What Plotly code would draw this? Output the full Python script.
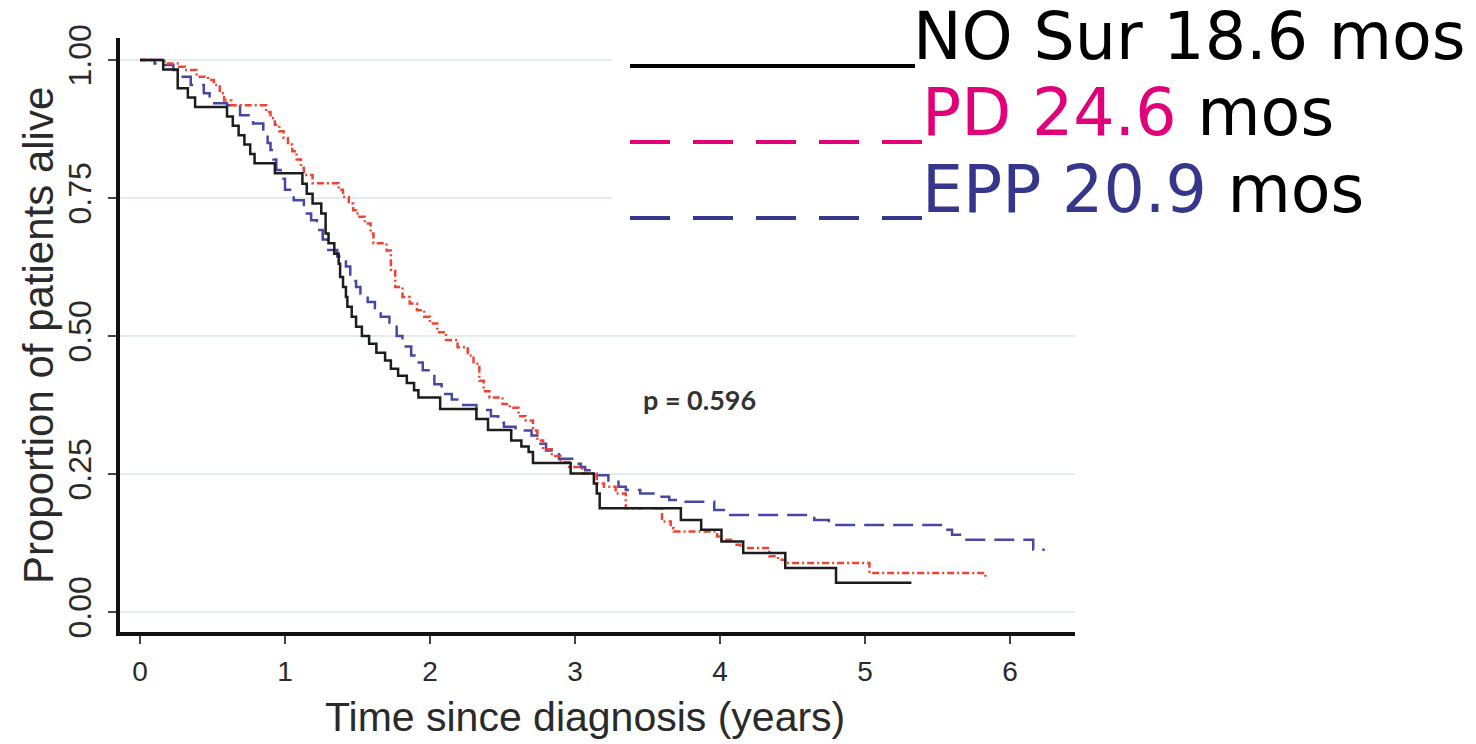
import plotly.graph_objects as go

# Kaplan-Meier survival estimates (time in years, proportion alive after each step)
no_sur_t = [0, 0.16, 0.26, 0.33, 0.38, 0.60, 0.64, 0.68, 0.72, 0.76, 0.79, 0.93, 1.12, 1.15, 1.19,
            1.25, 1.28, 1.30, 1.34, 1.37, 1.38, 1.40, 1.42, 1.43, 1.46, 1.49, 1.53, 1.58, 1.63, 1.69,
            1.73, 1.78, 1.84, 1.89, 1.92, 2.07, 2.32, 2.40, 2.56, 2.63, 2.68, 2.71, 2.97, 3.13, 3.15,
            3.17, 3.73, 3.87, 4.01, 4.16, 4.45, 4.80, 5.32]
no_sur_s = [1.0, 0.983, 0.949, 0.932, 0.915, 0.898, 0.881, 0.864, 0.847, 0.830, 0.813, 0.795, 0.776,
            0.758, 0.740, 0.722, 0.686, 0.668, 0.649, 0.631, 0.607, 0.589, 0.571, 0.553, 0.535, 0.517,
            0.500, 0.486, 0.470, 0.456, 0.441, 0.428, 0.415, 0.402, 0.389, 0.368, 0.350, 0.330, 0.311,
            0.300, 0.290, 0.270, 0.251, 0.233, 0.215, 0.188, 0.167, 0.149, 0.128, 0.107, 0.080, 0.053,
            0.053]

pd_t = [0, 0.17, 0.27, 0.31, 0.39, 0.47, 0.51, 0.55, 0.58, 0.63, 0.87, 0.90, 0.93, 0.96, 0.99, 1.02,
        1.05, 1.08, 1.11, 1.13, 1.19, 1.37, 1.40, 1.44, 1.47, 1.50, 1.55, 1.59, 1.61, 1.70, 1.73, 1.76,
        1.81, 1.86, 1.91, 1.96, 2.00, 2.05, 2.11, 2.19, 2.26, 2.30, 2.34, 2.37, 2.41, 2.50, 2.55, 2.61,
        2.66, 2.71, 2.74, 2.78, 2.84, 2.90, 2.96, 3.05, 3.15, 3.20, 3.28, 3.35, 3.60, 3.66, 3.68, 3.98,
        4.01, 4.10, 4.14, 4.34, 4.40, 4.45, 5.03, 5.83]
pd_s = [1.0, 0.994, 0.988, 0.982, 0.970, 0.964, 0.955, 0.940, 0.927, 0.918, 0.906, 0.895, 0.883,
        0.871, 0.859, 0.847, 0.835, 0.820, 0.805, 0.792, 0.777, 0.765, 0.752, 0.740, 0.728, 0.716,
        0.704, 0.686, 0.668, 0.655, 0.620, 0.589, 0.571, 0.559, 0.547, 0.535, 0.523, 0.507, 0.493,
        0.480, 0.465, 0.450, 0.419, 0.400, 0.389, 0.377, 0.370, 0.355, 0.347, 0.329, 0.311, 0.295,
        0.283, 0.272, 0.263, 0.251, 0.233, 0.227, 0.215, 0.188, 0.164, 0.152, 0.146, 0.137, 0.131,
        0.122, 0.116, 0.101, 0.095, 0.089, 0.071, 0.063]

epp_t = [0, 0.10, 0.16, 0.23, 0.28, 0.35, 0.44, 0.48, 0.60, 0.69, 0.78, 0.85, 0.88, 0.90, 0.92, 0.94,
         0.97, 1.00, 1.06, 1.13, 1.18, 1.22, 1.26, 1.29, 1.36, 1.42, 1.45, 1.49, 1.52, 1.57, 1.62,
         1.66, 1.72, 1.77, 1.81, 1.87, 1.91, 1.95, 2.03, 2.08, 2.15, 2.20, 2.32, 2.42, 2.47, 2.51,
         2.59, 2.70, 2.74, 2.80, 2.89, 2.99, 3.04, 3.07, 3.15, 3.23, 3.30, 3.35, 3.45, 3.55, 3.65,
         3.71, 3.96, 4.07, 4.65, 4.75, 5.55, 5.60, 5.67, 6.16, 6.24]
epp_s = [1.0, 0.994, 0.991, 0.982, 0.970, 0.955, 0.940, 0.922, 0.918, 0.900, 0.885, 0.867, 0.850,
         0.837, 0.820, 0.801, 0.785, 0.765, 0.746, 0.722, 0.710, 0.692, 0.675, 0.656, 0.644, 0.626,
         0.600, 0.589, 0.577, 0.562, 0.547, 0.535, 0.517, 0.500, 0.481, 0.465, 0.452, 0.438, 0.413,
         0.395, 0.385, 0.375, 0.366, 0.355, 0.343, 0.336, 0.329, 0.320, 0.305, 0.293, 0.278, 0.269,
         0.263, 0.257, 0.248, 0.236, 0.227, 0.221, 0.215, 0.209, 0.203, 0.200, 0.185, 0.176, 0.167,
         0.158, 0.149, 0.140, 0.131, 0.113, 0.113]

y_ticks = [0, 0.25, 0.5, 0.75, 1.0]
y_tick_text = ["0.00", "0.25", "0.50", "0.75", "1.00"]
x_ticks = [0, 1, 2, 3, 4, 5, 6]

legend_rows = [
    ("NO Sur 18.6", "#000000"),
    ("PD 24.6", "#e2007a"),
    ("EPP 20.9", "#36368c"),
]

W, H = 1476, 744
L, R, T, B = 120, 1075, 38, 632   # plot area in pixels


def px(x):
    return (x - L) / (R - L)


def py(y):
    return (B - y) / (B - T)


AX_FONT = "Liberation Sans, Arial, Helvetica, sans-serif"
TXT = "#2a2a2a"

fig = go.Figure()

fig.add_trace(go.Scatter(x=epp_t, y=epp_s, mode="lines", line_shape="hv",
                         line=dict(color="#4848a4", width=2.5, dash="20px,9px"),
                         name="EPP", showlegend=False))
fig.add_trace(go.Scatter(x=pd_t, y=pd_s, mode="lines", line_shape="hv",
                         line=dict(color="#ee4434", width=2.5, dash="7px,3px,2px,3px"),
                         name="PD", showlegend=False))
fig.add_trace(go.Scatter(x=no_sur_t, y=no_sur_s, mode="lines", line_shape="hv",
                         line=dict(color="#1c1c1c", width=2.5),
                         name="NO Sur", showlegend=False))

shapes = [
    # blank panel behind the legend block
    dict(type="rect", xref="paper", yref="paper", x0=px(612), x1=px(W + 5), y0=py(236), y1=py(-5),
         line=dict(width=0), fillcolor="white", layer="above"),
    # legend keys
    dict(type="line", xref="paper", yref="paper", x0=px(630), x1=px(915), y0=py(66), y1=py(66),
         line=dict(color="#000000", width=4), layer="above"),
    dict(type="line", xref="paper", yref="paper", x0=px(630), x1=px(922), y0=py(142), y1=py(142),
         line=dict(color="#e2007a", width=4, dash="40px,23px"), layer="above"),
    dict(type="line", xref="paper", yref="paper", x0=px(630), x1=px(922), y0=py(218), y1=py(218),
         line=dict(color="#36368c", width=4, dash="40px,23px"), layer="above"),
]

annotations = []
label_x = [911, 920, 920]
label_y = [37, 112, 189]
for (lbl, col), lx, ly in zip(legend_rows, label_x, label_y):
    annotations.append(dict(
        xref="paper", yref="paper", x=px(lx), y=py(ly), xanchor="left", yanchor="middle",
        text=f"<span style='color:{col}'>{lbl}</span> mos", showarrow=False,
        font=dict(family="DejaVu Sans, Verdana, sans-serif", size=65, color="#000000")))

annotations.append(dict(
    xref="paper", yref="paper", x=px(699), y=py(399), xanchor="center", yanchor="middle",
    text="<b>p = 0.596</b>", showarrow=False,
    font=dict(family="Lato, Open Sans, sans-serif", size=27, color="#333333")))

annotations.append(dict(
    xref="paper", yref="paper", x=px(585), y=py(717), xanchor="center", yanchor="middle",
    text="Time since diagnosis (years)", showarrow=False,
    font=dict(family=AX_FONT, size=41, color=TXT)))

annotations.append(dict(
    xref="paper", yref="paper", x=px(38), y=py(336), xanchor="center", yanchor="middle",
    text="Proportion of patients alive", showarrow=False, textangle=-90,
    font=dict(family=AX_FONT, size=42, color=TXT)))

fig.update_layout(
    width=W, height=H,
    margin=dict(l=L, r=W - R, t=T, b=H - B, pad=0),
    paper_bgcolor="white", plot_bgcolor="white",
    showlegend=False,
    shapes=shapes,
    annotations=annotations,
)

fig.update_xaxes(
    range=[-0.138, 6.448], tickvals=x_ticks, showgrid=False, zeroline=False,
    showline=True, linecolor="#111111", linewidth=4,
    ticks="outside", ticklen=8, tickwidth=2, tickcolor="#444444",
    tickfont=dict(family=AX_FONT, size=28, color=TXT), ticklabelstandoff=3,
)
fig.update_yaxes(
    range=[-0.036, 1.04], tickvals=y_ticks, ticktext=y_tick_text, tickangle=-90,
    showgrid=True, gridcolor="#e4eeed", gridwidth=2, zeroline=False,
    showline=True, linecolor="#111111", linewidth=4,
    ticks="outside", ticklen=8, tickwidth=2, tickcolor="#444444",
    tickfont=dict(family=AX_FONT, size=32, color=TXT), ticklabelstandoff=4,
)

fig.write_html("out.html")
